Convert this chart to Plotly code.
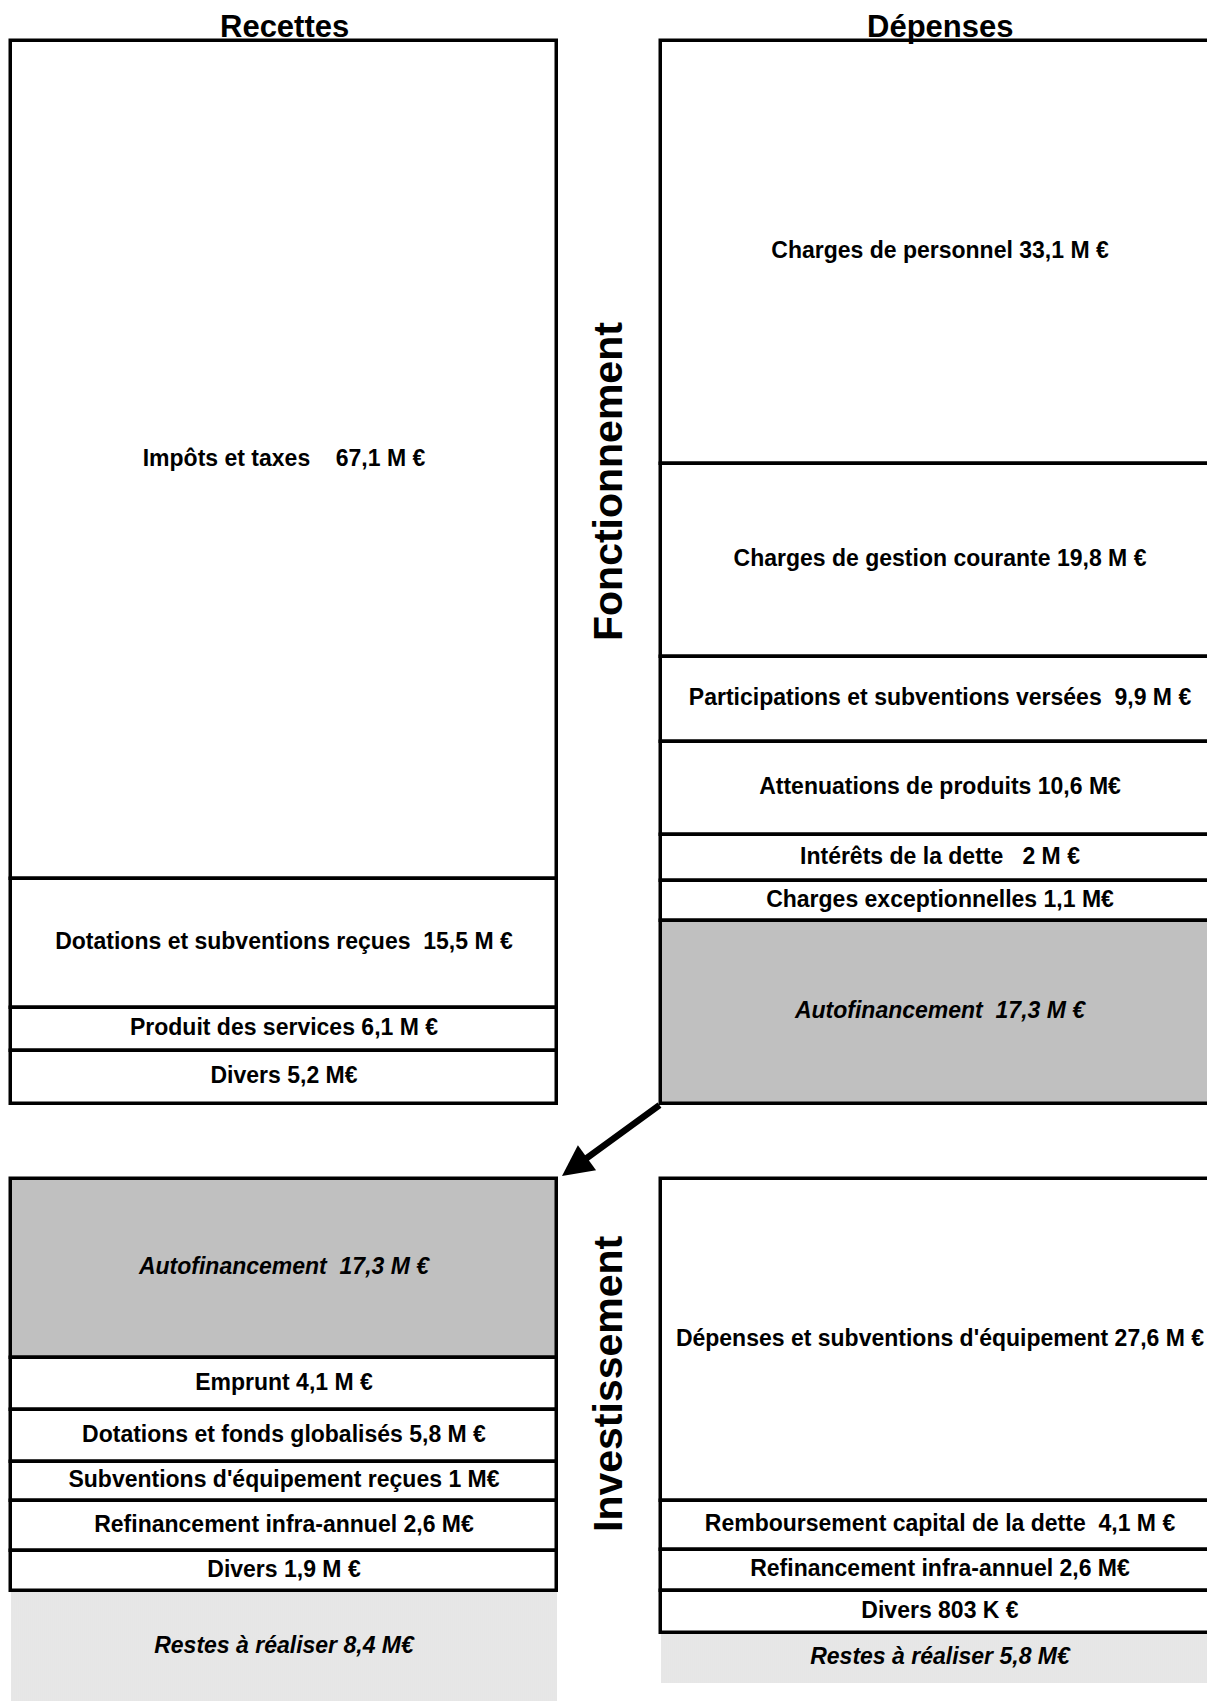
import plotly.graph_objects as go

# ---------------- data ----------------
rec_fonct_names = ["Impôts et taxes", "Dotations et subventions reçues",
                   "Produit des services", "Divers"]
rec_fonct_values = [67.1, 15.5, 6.1, 5.2]
rec_fonct_units = ["M €", "M €", "M €", "M€"]

dep_fonct_names = ["Charges de personnel", "Charges de gestion courante",
                   "Participations et subventions versées", "Attenuations de produits",
                   "Intérêts de la dette", "Charges exceptionnelles", "Autofinancement"]
dep_fonct_values = [33.1, 19.8, 9.9, 10.6, 2, 1.1, 17.3]
dep_fonct_units = ["M €", "M €", "M €", "M€", "M €", "M€", "M €"]

rec_inv_names = ["Autofinancement", "Emprunt", "Dotations et fonds globalisés",
                 "Subventions d'équipement reçues", "Refinancement infra-annuel",
                 "Divers", "Restes à réaliser"]
rec_inv_values = [17.3, 4.1, 5.8, 1, 2.6, 1.9, 8.4]
rec_inv_units = ["M €", "M €", "M €", "M€", "M€", "M €", "M€"]

dep_inv_names = ["Dépenses et subventions d'équipement", "Remboursement capital de la dette",
                 "Refinancement infra-annuel", "Divers", "Restes à réaliser"]
dep_inv_values = [27.6, 4.1, 2.6, 803, 5.8]
dep_inv_units = ["M €", "M €", "M€", "K €", "M€"]

column_titles = ["Recettes", "Dépenses"]
section_titles = ["Fonctionnement", "Investissement"]

# ---------------- layout (pixel units on the axes) ----------------
W, H = 1207, 1701
LEFT = (11, 557)
RIGHT = (661, 1219)
FONCT_TOP = 41
INV_TOP = 1179

REC_FONCT_ROWS = [838, 129, 43, 53]
DEP_FONCT_ROWS = [423, 193, 85, 93, 46, 40, 183]
REC_INV_ROWS = [179, 52, 52, 39, 50, 40, 112]
DEP_INV_ROWS = [322, 49, 41, 42, 50]

# spaces between the item name and its amount
REC_FONCT_GAP = [4, 2, 1, 1]
DEP_FONCT_GAP = [1, 1, 2, 1, 3, 1, 2]
REC_INV_GAP = [2, 1, 1, 1, 1, 1, 1]
DEP_INV_GAP = [1, 2, 1, 1, 1]

GREY = "#c0c0c0"
FONT = "Liberation Sans, Arial, sans-serif"
LABEL_SIZE = 23
BORDER = 3.5


def fmt(v):
    if float(v).is_integer():
        return str(int(v))
    return f"{v}".replace(".", ",")


def label(name, value, unit, gap):
    return f"{name}{chr(160) * gap}{fmt(value)} {unit}"


fig = go.Figure()

label_x, label_y, label_text = [], [], []


def add_column(col, top, rows, names, values, units, gaps):
    cx = (col[0] + col[1]) / 2
    w = col[1] - col[0]
    tops = []
    t = top
    for h in rows:
        tops.append(t)
        t += h
    boxed = [i for i, n in enumerate(names) if n != "Restes à réaliser"]
    remain = [i for i, n in enumerate(names) if n == "Restes à réaliser"]
    if remain:
        fig.add_trace(go.Bar(
            x=[cx] * len(remain), y=[rows[i] for i in remain], base=[tops[i] for i in remain],
            width=[w] * len(remain),
            marker=dict(color="white", line=dict(width=0),
                        pattern=dict(shape="|", size=2, solidity=0.5,
                                     fgcolor="#bdbdbd", bgcolor="#f4f4f4")),
            hoverinfo="skip", showlegend=False,
        ))
    fig.add_trace(go.Bar(
        x=[cx] * len(boxed), y=[rows[i] for i in boxed], base=[tops[i] for i in boxed],
        width=[w] * len(boxed),
        marker=dict(color=[GREY if names[i] == "Autofinancement" else "white" for i in boxed],
                    line=dict(color="black", width=BORDER)),
        hoverinfo="skip", showlegend=False,
    ))
    for i, n in enumerate(names):
        txt = label(n, values[i], units[i], gaps[i])
        if n in ("Autofinancement", "Restes à réaliser"):
            txt = f"<i>{txt}</i>"
        label_x.append(cx)
        label_y.append(tops[i] + rows[i] / 2)
        label_text.append(f"<b>{txt}</b>")
    return t


fonct_bottom = add_column(LEFT, FONCT_TOP, REC_FONCT_ROWS, rec_fonct_names,
                          rec_fonct_values, rec_fonct_units, REC_FONCT_GAP)
add_column(RIGHT, FONCT_TOP, DEP_FONCT_ROWS, dep_fonct_names,
           dep_fonct_values, dep_fonct_units, DEP_FONCT_GAP)
add_column(LEFT, INV_TOP, REC_INV_ROWS, rec_inv_names,
           rec_inv_values, rec_inv_units, REC_INV_GAP)
add_column(RIGHT, INV_TOP, DEP_INV_ROWS, dep_inv_names,
           dep_inv_values, dep_inv_units, DEP_INV_GAP)

fig.add_trace(go.Scatter(
    x=label_x, y=label_y, text=label_text, mode="text",
    textposition="middle center",
    textfont=dict(family=FONT, size=LABEL_SIZE, color="black"),
    hoverinfo="skip", showlegend=False, cliponaxis=False,
))

# column headings
for col, title in zip((LEFT, RIGHT), column_titles):
    fig.add_annotation(x=(col[0] + col[1]) / 2, y=26, xref="x", yref="y",
                       text=f"<b>{title}</b>", showarrow=False,
                       font=dict(family=FONT, size=31, color="black"))

# vertical section headings between the columns
mid_x = 608
for yc, title in zip((482, 1384), section_titles):
    fig.add_annotation(x=mid_x, y=yc, xref="x", yref="y", textangle=-90,
                       text=f"<b>{title}</b>", showarrow=False,
                       font=dict(family=FONT, size=41, color="black"))

# self-financing transfer arrow
fig.add_annotation(x=LEFT[1] + 5, y=INV_TOP - 3, xref="x", yref="y",
                   ax=RIGHT[0], ay=fonct_bottom, axref="x", ayref="y",
                   text="", showarrow=True, arrowhead=2, arrowsize=0.95,
                   arrowwidth=6.5, arrowcolor="black", standoff=0, startstandoff=0)

fig.update_layout(
    width=W, height=H,
    margin=dict(l=0, r=0, t=0, b=0, pad=0),
    paper_bgcolor="white", plot_bgcolor="white",
    barmode="overlay", bargap=0,
    xaxis=dict(range=[0, W], visible=False, fixedrange=True),
    yaxis=dict(range=[H, 0], visible=False, fixedrange=True),
)

fig.write_html("out.html")
